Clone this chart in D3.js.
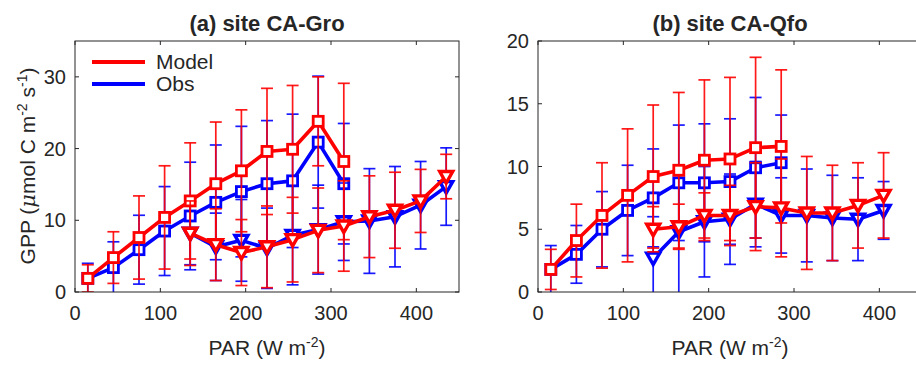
<!DOCTYPE html>
<html>
<head>
<meta charset="utf-8">
<script src="https://cdn.jsdelivr.net/npm/d3@7"></script>
<style>
  body { margin: 0; background: #fff; }
  svg text { font-family: "Liberation Sans", Arial, Helvetica, sans-serif; fill: #262626; }
</style>
</head>
<body>
<div id="chart"></div>
<script>
// PAR bin centres (W m-2)
const parSquares = [15, 45, 75, 105, 135, 165, 195, 225, 255, 285, 315];
const parTriangles = [135, 165, 195, 225, 255, 285, 315, 345, 375, 405, 435];

// (a) site CA-Gro
const groModelSq = [1.9, 4.8, 7.6, 10.4, 12.7, 15.1, 16.9, 19.6, 19.9, 23.8, 18.2];
const groModelSqErr = [1.9, 3.6, 5.8, 7.2, 8.1, 8.6, 8.5, 8.8, 8.9, 6.2, 10.9];
const groObsSq = [1.9, 3.4, 5.9, 8.5, 10.6, 12.5, 14.0, 15.1, 15.5, 20.9, 15.1];
const groObsSqErr = [2.1, 3.6, 4.8, 6.2, 7.5, 8.0, 9.1, 8.8, 9.3, 9.2, 8.4];
const groModelTri = [8.2, 6.6, 5.5, 6.3, 7.3, 8.6, 9.2, 10.5, 11.4, 12.7, 16.1];
const groModelTriErr = [4.5, 5.0, 4.6, 5.7, 5.9, 5.9, 6.3, 5.7, 5.3, 4.4, 3.1];
const groObsTri = [8.2, 6.3, 7.2, 6.1, 7.9, 8.7, 9.8, 9.9, 10.5, 12.1, 14.7];
const groObsTriErr = [4.4, 4.7, 5.7, 5.6, 6.9, 6.2, 5.4, 7.3, 7.0, 6.1, 5.4];

// (b) site CA-Qfo
const qfoModelSq = [1.8, 4.1, 6.1, 7.7, 9.2, 9.7, 10.5, 10.6, 11.5, 11.6];
const qfoModelSqErr = [1.6, 2.9, 4.2, 5.3, 5.7, 6.2, 6.4, 6.5, 7.2, 6.1];
const qfoObsSq = [1.8, 3.0, 5.0, 6.5, 7.5, 8.7, 8.7, 8.8, 9.9, 10.3];
const qfoObsSqErr = [1.9, 2.3, 3.0, 3.6, 3.9, 4.6, 4.7, 5.0, 5.6, 3.8];
const qfoModelTri = [5.0, 5.2, 6.1, 6.1, 6.8, 6.7, 6.3, 6.3, 6.9, 7.7];
const qfoModelTriErr = [1.8, 1.8, 1.8, 2.4, 3.5, 3.9, 4.5, 3.8, 3.4, 3.4];
const qfoObsTri = [2.7, 4.8, 5.6, 5.8, 7.0, 6.1, 6.1, 5.9, 5.8, 6.5];
const qfoObsTriErr = [3.3, 4.9, 4.4, 3.6, 3.4, 3.0, 3.7, 3.4, 3.3, 2.3];

const xTicks = [0, 100, 200, 300, 400];
const groYTicks = [0, 10, 20, 30];
const qfoYTicks = [0, 5, 10, 15, 20];

const RED = "#ff0000", BLUE = "#0000ff", AXIS = "#262626";

const width = 916, height = 365;
const svg = d3.select("#chart").append("svg")
    .attr("width", width)
    .attr("height", height);

function zip(xs, ys, es) {
    return ys.map((v, i) => ({ x: xs[i], y: v, e: es[i] }));
}

function drawPanel(opts) {
    const { left, top, w, h, yMax, yTicks, title, series, id } = opts;
    const x = d3.scaleLinear().domain([0, 450]).range([left, left + w]);
    const y = d3.scaleLinear().domain([0, yMax]).range([top + h, top]);

    svg.append("clipPath").attr("id", id)
        .append("rect").attr("x", left).attr("y", top).attr("width", w).attr("height", h);

    const g = svg.append("g").attr("clip-path", `url(#${id})`);

    // series: blue first then red on top
    series.forEach(s => {
        const pts = zip(s.xs, s.ys, s.es);
        const eb = g.append("g")
            .attr("stroke", s.color)
            .attr("stroke-width", 1.7)
            .attr("stroke-opacity", 0.9)
            .attr("fill", "none");
        pts.forEach(d => {
            const y0 = y(d.y - d.e), y1 = y(d.y + d.e), cx = x(d.x);
            eb.append("line").attr("x1", cx).attr("x2", cx).attr("y1", y0).attr("y2", y1);
            eb.append("line").attr("x1", cx - 6).attr("x2", cx + 6).attr("y1", y0).attr("y2", y0);
            eb.append("line").attr("x1", cx - 6).attr("x2", cx + 6).attr("y1", y1).attr("y2", y1);
        });
        g.append("path")
            .datum(pts)
            .attr("fill", "none")
            .attr("stroke", s.color)
            .attr("stroke-width", 3.6)
            .attr("stroke-linejoin", "round")
            .attr("d", d3.line().x(d => x(d.x)).y(d => y(d.y)));
        const m = g.append("g");
        pts.forEach(d => {
            const cx = x(d.x), cy = y(d.y);
            if (s.marker === "square") {
                m.append("rect")
                    .attr("x", cx - 5).attr("y", cy - 5)
                    .attr("width", 10).attr("height", 10)
                    .attr("fill", "#fff")
                    .attr("stroke", s.color)
                    .attr("stroke-width", 2.8);
            } else {
                m.append("path")
                    .attr("d", `M${cx - 6.5},${cy - 5}L${cx + 6.5},${cy - 5}L${cx},${cy + 6.5}Z`)
                    .attr("fill", "#fff")
                    .attr("stroke", s.color)
                    .attr("stroke-width", 3.4)
                    .attr("stroke-linejoin", "miter");
            }
        });
    });

    // box with inward ticks
    const ax = svg.append("g").attr("stroke", AXIS).attr("stroke-width", 1).attr("fill", "none");
    ax.append("rect").attr("x", left).attr("y", top).attr("width", w).attr("height", h);
    xTicks.forEach(t => {
        ax.append("line").attr("x1", x(t)).attr("x2", x(t)).attr("y1", top + h).attr("y2", top + h - 4);
        ax.append("line").attr("x1", x(t)).attr("x2", x(t)).attr("y1", top).attr("y2", top + 4);
    });
    yTicks.forEach(t => {
        ax.append("line").attr("x1", left).attr("x2", left + 4).attr("y1", y(t)).attr("y2", y(t));
        ax.append("line").attr("x1", left + w).attr("x2", left + w - 4).attr("y1", y(t)).attr("y2", y(t));
    });

    svg.append("g").selectAll("text").data(xTicks).join("text")
        .attr("x", d => x(d)).attr("y", top + h + 28)
        .attr("text-anchor", "middle")
        .style("font-size", "20px")
        .text(d => d);
    svg.append("g").selectAll("text").data(yTicks).join("text")
        .attr("x", left - 9).attr("y", d => y(d) + 7)
        .attr("text-anchor", "end")
        .style("font-size", "20px")
        .text(d => d);

    // title
    svg.append("text")
        .attr("x", left + w / 2).attr("y", top - 10)
        .attr("text-anchor", "middle")
        .style("font-size", "22px")
        .style("font-weight", "bold")
        .text(title);

    // x label
    const xl = svg.append("text")
        .attr("x", left + w / 2).attr("y", 355)
        .attr("text-anchor", "middle")
        .style("font-size", "21px");
    xl.append("tspan").text("PAR (W m");
    xl.append("tspan").attr("dy", -8).style("font-size", "14px").text("-2");
    xl.append("tspan").attr("dy", 8).text(")");

    return { x, y };
}

drawPanel({
    id: "clipA", left: 75, top: 41, w: 384, h: 251, yMax: 35, yTicks: groYTicks,
    title: "(a) site CA-Gro",
    series: [
        { xs: parSquares, ys: groObsSq, es: groObsSqErr, color: BLUE, marker: "square" },
        { xs: parTriangles, ys: groObsTri, es: groObsTriErr, color: BLUE, marker: "tri" },
        { xs: parSquares, ys: groModelSq, es: groModelSqErr, color: RED, marker: "square" },
        { xs: parTriangles, ys: groModelTri, es: groModelTriErr, color: RED, marker: "tri" }
    ]
});

drawPanel({
    id: "clipB", left: 538, top: 41, w: 384, h: 251, yMax: 20, yTicks: qfoYTicks,
    title: "(b) site CA-Qfo",
    series: [
        { xs: parSquares.slice(0, 10), ys: qfoObsSq, es: qfoObsSqErr, color: BLUE, marker: "square" },
        { xs: parTriangles.slice(0, 10), ys: qfoObsTri, es: qfoObsTriErr, color: BLUE, marker: "tri" },
        { xs: parSquares.slice(0, 10), ys: qfoModelSq, es: qfoModelSqErr, color: RED, marker: "square" },
        { xs: parTriangles.slice(0, 10), ys: qfoModelTri, es: qfoModelTriErr, color: RED, marker: "tri" }
    ]
});

// legend
const legend = svg.append("g");
[["Model", RED, 62], ["Obs", BLUE, 84]].forEach(([label, c, ly]) => {
    legend.append("line").attr("x1", 92).attr("x2", 145).attr("y1", ly).attr("y2", ly)
        .attr("stroke", c).attr("stroke-width", 4);
    legend.append("text").attr("x", 156).attr("y", ly + 7)
        .style("font-size", "21px").text(label);
});

// y label
const yl = svg.append("text")
    .attr("transform", "translate(35,166) rotate(-90)")
    .attr("text-anchor", "middle")
    .style("font-size", "21px");
yl.append("tspan").text("GPP (");
yl.append("tspan").style("font-style", "italic").style("font-family", "'DejaVu Serif', serif").text("\u03bc");
yl.append("tspan").text("mol C m");
yl.append("tspan").attr("dy", -8).style("font-size", "14px").text("-2");
yl.append("tspan").attr("dy", 8).text(" s");
yl.append("tspan").attr("dy", -8).style("font-size", "14px").text("-1");
yl.append("tspan").attr("dy", 8).text(")");
</script>
</body>
</html>
